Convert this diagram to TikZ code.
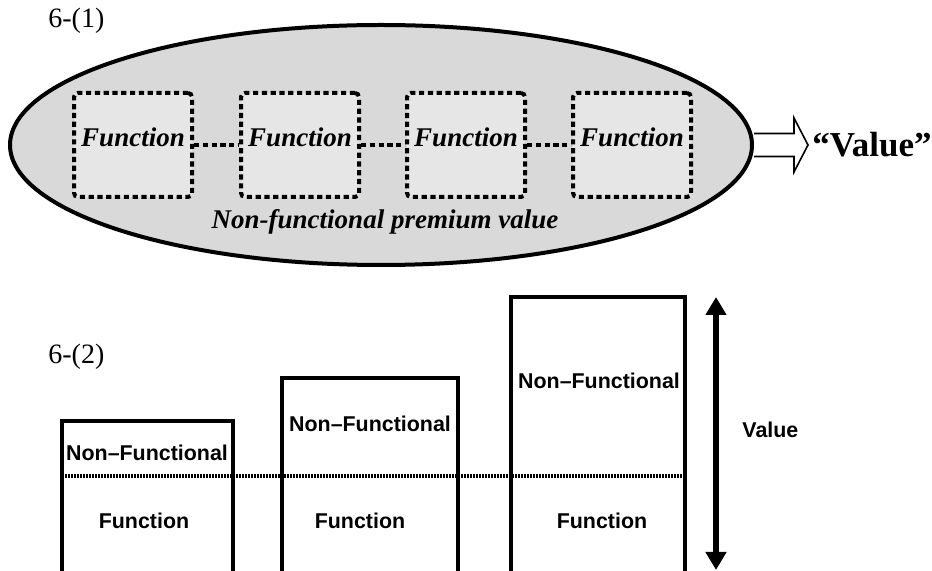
\documentclass[tikz,border=0pt]{standalone}
\usepackage{fontspec}
\setmainfont{Liberation Serif}
\newfontfamily\gothicfont{Liberation Sans}
\usetikzlibrary{shapes.geometric,arrows.meta,positioning}

\definecolor{ellgray}{RGB}{217,217,217}
\definecolor{boxgray}{RGB}{230,230,230}

\tikzset{
	funcbox/.style={draw, line width=2pt, dash pattern=on 2.6pt off 1.8pt, rounded corners=2pt, fill=boxgray, minimum width=59pt, minimum height=52pt, inner sep=0pt},
	funclink/.style={line width=2pt, dash pattern=on 2.6pt off 1.8pt},
	functext/.style={font=\fontsize{13.5}{16}\selectfont\bfseries\itshape, inner sep=0pt},
	numtext/.style={font=\fontsize{14}{16}\selectfont, anchor=west, inner sep=0pt},
	barline/.style={line width=2pt},
	bartext/.style={font=\gothicfont\bfseries\fontsize{10.7}{12}\selectfont, inner sep=0pt},
	level/.style={line width=1.6pt, dash pattern=on 1pt off 0.5pt},
}

\begin{document}
\begin{tikzpicture}[x=0.5pt,y=-0.5pt]
	\useasboundingbox (0,0) rectangle (932,571);
	
	%part 1
	\node[numtext] (t1) at (48,21) {6-(1)};
	\node[draw, ellipse, line width=2pt, fill=ellgray, minimum width=371pt, minimum height=120pt, inner sep=0pt] (ell) at (381,145) {};
	
	\foreach \i/\x in {1/133,2/300,3/466,4/632}{
		\node[funcbox] (f\i) at (\x,145) {};
		\node[functext] (ft\i) at ([yshift=4pt]f\i.center) {Function};
	}
	\foreach \i/\j in {1/2,2/3,3/4}
		\draw[funclink] (f\i.east) -- (f\j.west);
	
	\node[functext] (nf) at (385,222) {Non-functional premium value};
	
	%hollow arrow
	\draw[line width=0.8pt, fill=white] (ell.east) ++(0,-11.5) -- ++(40,0) -- ++(0,-15.5) -- ++(14,27) coordinate (tip) -- ++(-14,27) -- ++(0,-15.5) -- ++(-40,0);
	\node[font=\fontsize{17.5}{20}\selectfont\bfseries, right=2pt of tip, inner sep=0pt] (val1) {“Value”};
	
	%part 2
	\node[numtext] (t2) at (48,357) {6-(2)};
	\foreach \x/\w/\top in {62/171/421, 282/176/378, 511/174/297}
		\draw[barline] (\x,571) |- (\x+\w,\top) -- (\x+\w,571);
	
	\draw[level] (62,476) -- (685,476);
	
	\node[bartext] (nfa) at (147,453) {Non–Functional};
	\node[bartext] (nfb) at (370,424) {Non–Functional};
	\node[bartext] (nfc) at (599,381) {Non–Functional};
	\node[bartext] (fa) at (144,521) {Function};
	\node[bartext] (fb) at (360,521) {Function};
	\node[bartext] (fc) at (602,521) {Function};
	
	%value arrow
	\coordinate (vtop) at (716,297);
	\coordinate (vbot) at (716,570);
	\draw[line width=3pt, {Triangle[length=9pt,width=10pt]}-{Triangle[length=9pt,width=10pt]}] (vtop) -- (vbot);
	\node[bartext, anchor=west] (val2) at (742,430) {Value};
\end{tikzpicture}
\end{document}
